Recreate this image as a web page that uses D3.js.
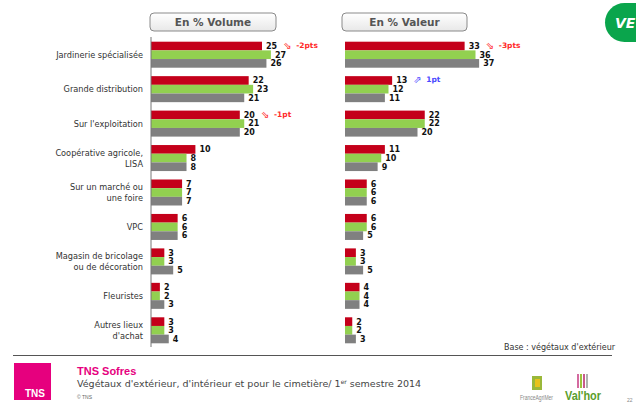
<!DOCTYPE html>
<html>
<head>
<meta charset="utf-8">
<script src="https://cdn.jsdelivr.net/npm/d3@7"></script>
<style>
  body { margin: 0; background: #fff; }
  svg { display: block; }
</style>
</head>
<body>
<div id="chart" style="width:636px;height:403px"></div>
<script>
// categories (labels split on "|")
const categories = ["Jardinerie spécialisée", "Grande distribution", "Sur l'exploitation",
  "Coopérative agricole,|LISA", "Sur un marché ou|une foire", "VPC",
  "Magasin de bricolage|ou de décoration", "Fleuristes", "Autres lieux|d'achat"];
const series = ["2014", "2013", "2012"];
const colors = ["#c4001a", "#92d050", "#808080"];

// en % volume
const volume2014 = [25, 22, 20, 10, 7, 6, 3, 2, 3];
const volume2013 = [27, 23, 21, 8, 7, 6, 3, 2, 3];
const volume2012 = [26, 21, 20, 8, 7, 6, 5, 3, 4];
// en % valeur
const valeur2014 = [33, 13, 22, 11, 6, 6, 3, 4, 2];
const valeur2013 = [36, 12, 22, 10, 6, 6, 3, 4, 2];
const valeur2012 = [37, 11, 20, 9, 6, 5, 5, 4, 3];

// evolutions
const volumeNotes = [{cat: 0, dir: "down", text: "-2pts"}, {cat: 2, dir: "down", text: "-1pt"}];
const valeurNotes = [{cat: 0, dir: "down", text: "-3pts"}, {cat: 1, dir: "up", text: "1pt"}];

const svg = d3.select("#chart").append("svg")
    .attr("width", 636).attr("height", 403);

const defs = svg.append("defs");
const grad = defs.append("linearGradient").attr("id", "hdr").attr("x1", 0).attr("y1", 0).attr("x2", 0).attr("y2", 1);
grad.append("stop").attr("offset", "0%").attr("stop-color", "#ffffff");
grad.append("stop").attr("offset", "100%").attr("stop-color", "#e8e8e8");

// groupes
const y = d3.scaleBand()
    .domain(categories)
    .range([41.7, 343.3])
    .paddingInner(0.245)
    .paddingOuter(0);

const ySub = d3.scaleBand()
    .domain(series)
    .range([0, y.bandwidth()]);

function panel(x0, maxVal, width, values, notes, title, boxX, boxW, showAxis){
    const g = svg.append("g").attr("transform", `translate(${x0},0)`);
    const x = d3.scaleLinear().domain([0, maxVal]).range([0, width]);

    // titre
    svg.append("rect")
        .attr("x", boxX).attr("y", 13).attr("width", boxW).attr("height", 18)
        .attr("rx", 4)
        .attr("fill", "url(#hdr)")
        .attr("stroke", "#8a8a8a").attr("stroke-width", 1);
    svg.append("text")
        .attr("x", boxX + boxW / 2).attr("y", 26)
        .attr("text-anchor", "middle")
        .attr("font-family", "DejaVu Sans").attr("font-weight", "bold")
        .attr("font-size", 10.5).attr("fill", "#555")
        .text(title);

    const rows = [];
    categories.forEach((c, i) => {
        series.forEach((s, j) => rows.push({cat: c, ci: i, s: s, si: j, v: values[j][i]}));
    });

    g.selectAll("rect.bar")
        .data(rows)
        .enter()
        .append("rect")
        .attr("class", "bar")
        .attr("x", 0)
        .attr("y", d => y(d.cat) + ySub(d.s))
        .attr("height", ySub.bandwidth())
        .attr("width", d => x(d.v))
        .attr("fill", d => colors[d.si]);

    const labels = g.selectAll("text.label")
        .data(rows)
        .enter()
        .append("text")
        .attr("class", "label")
        .attr("x", d => x(d.v) + 4)
        .attr("y", d => y(d.cat) + ySub(d.s) + ySub.bandwidth() / 2)
        .attr("dy", "0.36em")
        .attr("font-family", "DejaVu Sans").attr("font-weight", "bold")
        .attr("font-size", 8).attr("fill", "#111")
        .text(d => d.v);

    if (showAxis) {
        g.append("line")
            .attr("x1", 0).attr("x2", 0)
            .attr("y1", 37).attr("y2", 347)
            .attr("stroke", "#777").attr("stroke-width", 1);
    }

    // annotations
    notes.forEach(n => {
        const v = values[0][n.cat];
        const lbl = labels.filter(d => d.ci === n.cat && d.si === 0).node();
        const lx = x(v) + 4 + lbl.getComputedTextLength();
        const col = n.dir === "down" ? "#ff2a2a" : "#4a4aff";
        const yy = y(categories[n.cat]) + ySub(series[0]) + ySub.bandwidth() / 2;
        g.append("text")
            .attr("x", lx + 6).attr("y", yy - 1).attr("dy", "0.36em")
            .attr("font-family", "DejaVu Sans").attr("font-size", 10)
            .attr("fill", col)
            .text(n.dir === "down" ? "⇘" : "⇗");
        g.append("text")
            .attr("x", lx + 19).attr("y", yy - 1).attr("dy", "0.36em")
            .attr("font-family", "DejaVu Sans").attr("font-weight", "bold")
            .attr("font-size", 7.5).attr("fill", col)
            .text(n.text);
    });
}

panel(151, 30, 133.2, [volume2014, volume2013, volume2012], volumeNotes, "En % Volume", 150, 126, true);
panel(345, 40, 145, [valeur2014, valeur2013, valeur2012], valeurNotes, "En % Valeur", 342, 125, false);

// libelles categories
const catLabels = svg.append("g");
categories.forEach(c => {
    const lines = c.split("|");
    const cy = y(c) + y.bandwidth() / 2;
    const lh = 11;
    const t = catLabels.append("text")
        .attr("text-anchor", "end")
        .attr("font-family", "DejaVu Sans").attr("font-size", 8.2)
        .attr("fill", "#333");
    lines.forEach((l, k) => {
        t.append("tspan")
            .attr("x", 143)
            .attr("y", cy + 3 + (k - (lines.length - 1) / 2) * lh)
            .text(l);
    });
});

// pastille verte
svg.append("rect")
    .attr("x", 605).attr("y", 3).attr("width", 60).attr("height", 39)
    .attr("rx", 19.5).attr("fill", "#0aa54c");
svg.append("text")
    .attr("x", 615).attr("y", 28)
    .attr("font-family", "DejaVu Sans").attr("font-weight", "bold").attr("font-style", "italic")
    .attr("font-size", 14).attr("fill", "#fff")
    .text("VE");

// pied
svg.append("text")
    .attr("x", 615).attr("y", 350)
    .attr("text-anchor", "end")
    .attr("font-family", "DejaVu Sans").attr("font-size", 8).attr("fill", "#333")
    .text("Base : végétaux d'extérieur");

svg.append("line")
    .attr("x1", 13).attr("x2", 612).attr("y1", 355.5).attr("y2", 355.5)
    .attr("stroke", "#555").attr("stroke-width", 1);

svg.append("rect")
    .attr("x", 14).attr("y", 363).attr("width", 37).attr("height", 37)
    .attr("fill", "#e6007e");
svg.append("text")
    .attr("x", 25).attr("y", 397)
    .attr("font-family", "Liberation Sans Narrow, Liberation Sans").attr("font-weight", "bold")
    .attr("font-size", 10).attr("fill", "#fff")
    .text("TNS");

svg.append("text")
    .attr("x", 77).attr("y", 375)
    .attr("font-family", "Liberation Sans Narrow, Liberation Sans").attr("font-weight", "bold")
    .attr("font-size", 11).attr("fill", "#e6007e")
    .text("TNS Sofres");

const sub = svg.append("text")
    .attr("x", 77).attr("y", 387)
    .attr("font-family", "DejaVu Sans").attr("font-size", 9.5).attr("fill", "#444");
sub.append("tspan").text("Végétaux d'extérieur, d'intérieur et pour le cimetière/ 1");
sub.append("tspan").attr("dy", -3).attr("font-size", 6).text("er");
sub.append("tspan").attr("dy", 3).text(" semestre 2014");

svg.append("text")
    .attr("x", 77).attr("y", 399)
    .attr("font-family", "Liberation Sans").attr("font-size", 5).attr("fill", "#666")
    .text("© TNS");

// logos
svg.append("rect").attr("x", 532).attr("y", 376).attr("width", 10).attr("height", 14).attr("fill", "#9ab83a");
svg.append("rect").attr("x", 535).attr("y", 379).attr("width", 5).attr("height", 8).attr("fill", "#e8c21a");
svg.append("text")
    .attr("x", 520).attr("y", 400)
    .attr("font-family", "Liberation Sans").attr("font-size", 7)
    .attr("textLength", 33).attr("lengthAdjust", "spacingAndGlyphs")
    .attr("fill", "#888")
    .text("FranceAgriMer");
[["#d46aa0", 577], ["#9cc23c", 580], ["#c85a8c", 583], ["#b0b0b0", 586]].forEach(d => {
    svg.append("rect").attr("x", d[1]).attr("y", 374).attr("width", 2).attr("height", 14).attr("fill", d[0]);
});
svg.append("text")
    .attr("x", 565).attr("y", 400)
    .attr("font-family", "Liberation Sans").attr("font-weight", "bold")
    .attr("font-size", 12).attr("textLength", 36).attr("lengthAdjust", "spacingAndGlyphs")
    .attr("fill", "#5a9e2c")
    .text("Val'hor");
svg.append("text")
    .attr("x", 627).attr("y", 402)
    .attr("font-family", "Liberation Sans").attr("font-size", 5).attr("fill", "#888")
    .text("22");
</script>
</body>
</html>
